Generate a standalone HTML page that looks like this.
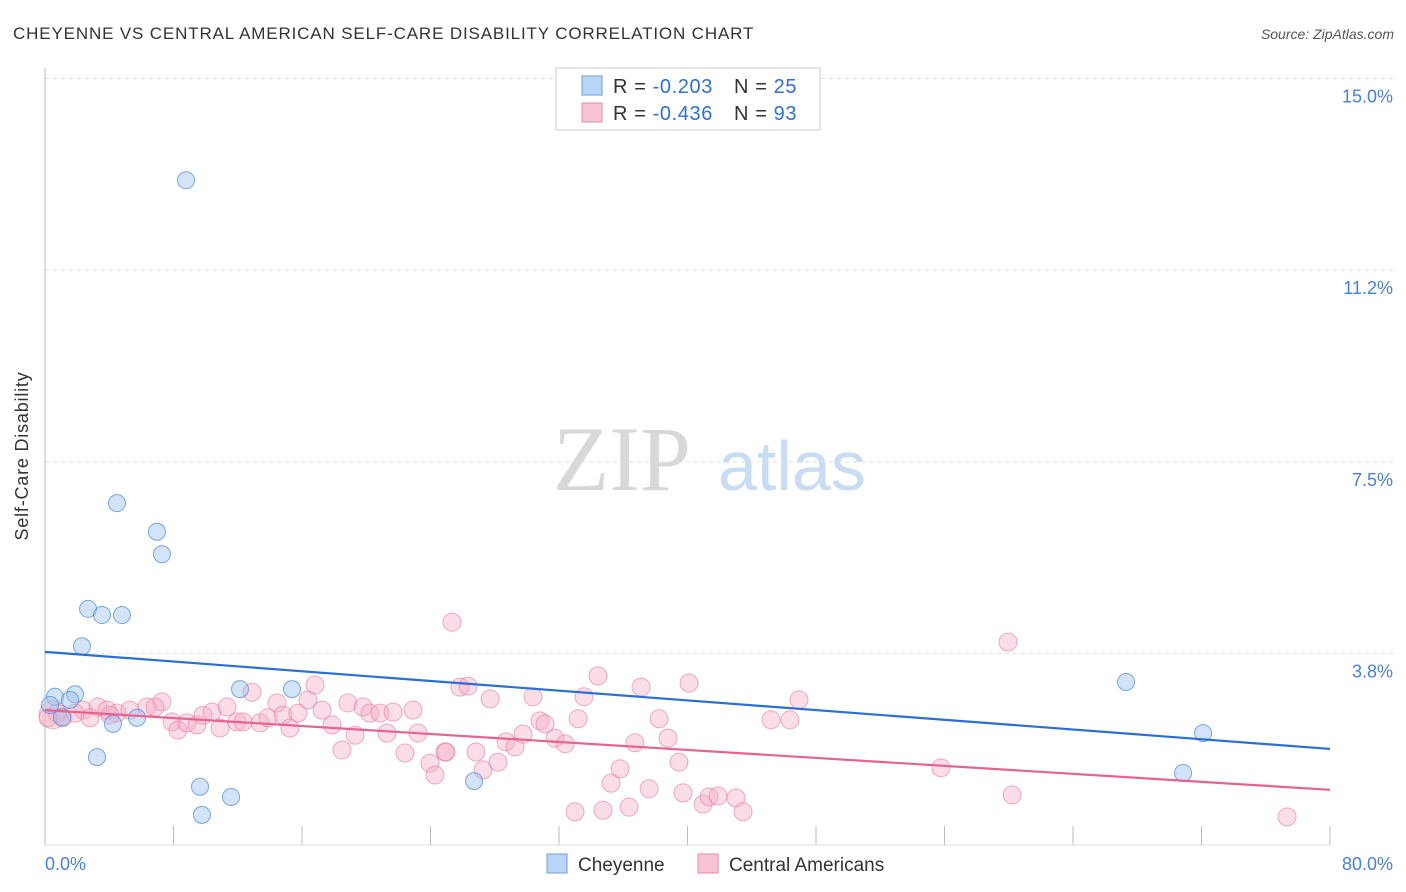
<!DOCTYPE html>
<html><head><meta charset="utf-8"><style>
body{margin:0;background:#fff;font-family:"Liberation Sans",sans-serif;}
svg{display:block}
</style></head><body>
<svg width="1406" height="892" xmlns="http://www.w3.org/2000/svg">
<text x="13" y="39" font-size="17" letter-spacing="0.85" fill="#333">CHEYENNE VS CENTRAL AMERICAN SELF-CARE DISABILITY CORRELATION CHART</text>
<text x="1394" y="39" font-size="14" fill="#555" font-style="italic" text-anchor="end">Source: ZipAtlas.com</text>
<g>
<text x="553" y="490" font-family="Liberation Serif,serif" font-size="92" fill="#d8d8d8">ZIP</text>
<text x="718" y="490" font-size="70" fill="#c8dcf4">atlas</text>
</g>
<g id="grid"></g>
<g id="ticks"></g>
<line x1="45" y1="68" x2="45" y2="845" stroke="#bbb"/>
<line x1="45" y1="845" x2="1330" y2="845" stroke="#ddd"/>
<text x="28" y="456" font-size="18" letter-spacing="0.8" fill="#333" text-anchor="middle" transform="rotate(-90 28 456)">Self-Care Disability</text>
<text x="45" y="870" font-size="18" fill="#4a7fd8">0.0%</text>
<text x="1393" y="870" font-size="18" fill="#4a7fd8" text-anchor="end">80.0%</text>
<g id="pink"></g>
<g id="blue"></g>
<g id="lines"></g>
<g>
<rect x="556" y="68" width="264" height="62" fill="#fff" stroke="#ccc"/>
<rect x="582" y="76" width="20" height="19" fill="#b8d4f6" stroke="#6d9fe0"/>
<rect x="582" y="103" width="20" height="19" fill="#f8c4d4" stroke="#e88aa8"/>
<text x="613" y="93" font-size="20" letter-spacing="0.6" fill="#333">R = <tspan fill="#2f6fd8">-0.203</tspan></text>
<text x="734" y="93" font-size="20" letter-spacing="0.6" fill="#333">N = <tspan fill="#2f6fd8">25</tspan></text>
<text x="613" y="120" font-size="20" letter-spacing="0.6" fill="#333">R = <tspan fill="#2f6fd8">-0.436</tspan></text>
<text x="734" y="120" font-size="20" letter-spacing="0.6" fill="#333">N = <tspan fill="#2f6fd8">93</tspan></text>
</g>
<g>
<rect x="547" y="854" width="20" height="19" fill="#b8d4f6" stroke="#6d9fe0"/>
<text x="578" y="871" font-size="19" fill="#333">Cheyenne</text>
<rect x="698" y="854" width="20" height="19" fill="#f8c4d4" stroke="#e88aa8"/>
<text x="729" y="871" font-size="19" fill="#333">Central Americans</text>
</g>
</svg>
<script>
const yTicks=[3.75,7.5,11.25,15];
const yTickLabels=["3.8%","7.5%","11.2%","15.0%"];
const xTicks=[8,16,24,32,40,48,56,64,72,80];
const blueX=[8.78,4.48,6.97,7.28,2.68,3.55,4.79,2.30,0.62,1.87,1.56,0.31,1.06,4.23,5.73,12.14,15.38,3.24,9.65,11.58,9.77,26.71,67.30,72.10,70.85];
const blueY=[13.01,6.69,6.13,5.69,4.62,4.50,4.50,3.89,2.90,2.95,2.84,2.74,2.50,2.37,2.49,3.05,3.05,1.72,1.14,0.94,0.59,1.25,3.19,2.19,1.41];
const pinkX=[0.75,1.12,2.37,3.30,2.80,3.86,4.48,5.29,6.35,7.28,6.85,7.91,8.28,8.84,9.46,9.84,10.40,11.33,10.90,11.95,12.33,12.89,13.39,13.88,14.44,14.82,15.25,15.75,16.37,16.81,17.25,17.87,18.49,18.86,19.30,19.80,20.23,20.86,21.67,21.29,22.41,22.91,23.22,23.97,24.28,24.90,25.34,25.84,26.34,27.71,30.38,34.43,37.11,40.10,46.94,33.56,24.97,26.83,27.27,28.20,28.70,29.26,29.76,30.82,31.13,31.75,32.38,33.19,35.80,35.24,36.73,38.23,38.79,39.47,37.61,39.72,40.97,41.34,41.90,43.02,43.46,45.20,46.38,33.00,34.74,36.36,59.96,55.78,60.21,77.33,0.19,1.87,4.05];
const pinkY=[2.58,2.49,2.64,2.70,2.49,2.64,2.58,2.64,2.70,2.80,2.70,2.41,2.25,2.39,2.35,2.54,2.60,2.70,2.29,2.41,2.41,2.99,2.39,2.49,2.78,2.54,2.29,2.58,2.84,3.13,2.64,2.35,1.86,2.78,2.15,2.70,2.58,2.58,2.60,2.19,1.80,2.64,2.19,1.60,1.37,1.82,4.36,3.09,3.11,2.86,2.90,3.31,3.09,3.17,2.84,2.90,1.82,1.82,1.47,1.62,2.02,1.92,2.17,2.43,2.37,2.09,1.98,2.47,1.49,1.21,2.00,2.47,2.09,1.62,1.10,1.02,0.80,0.94,0.96,0.92,0.65,2.45,2.45,0.65,0.68,0.74,3.97,1.51,0.98,0.55,2.49,2.58,2.54];
const blueTrend=[3.78,1.88];
const pinkTrend=[2.64,1.08];
const NS="http://www.w3.org/2000/svg";
const sx=v=>45+v/80*1285;
const sy=v=>845-v*51.1;
function mk(tag,attrs,parent){const e=document.createElementNS(NS,tag);for(const k in attrs)e.setAttribute(k,attrs[k]);parent.appendChild(e);return e;}
const grid=document.getElementById('grid');
yTicks.forEach((t,i)=>{
  const l=mk('line',{x1:45,x2:1393,y1:sy(t),y2:sy(t),stroke:'#ddd','stroke-dasharray':'4,4'},grid);
  
  
  const tx=mk('text',{x:1393,y:sy(t)+24,'font-size':18,fill:'#4a7fd8','text-anchor':'end'},grid);
  tx.textContent=yTickLabels[i];
  
  
});
const ticks=document.getElementById('ticks');
xTicks.forEach(t=>{
  const l=mk('line',{x1:sx(t),x2:sx(t),y1:826,y2:845,stroke:'#bbb'},ticks);
  
  
});
const pg=document.getElementById('pink');
const big=mk('circle',{cx:sx(0.5),cy:sy(2.55),r:14,fill:'rgba(244,170,195,0.35)',stroke:'rgba(228,120,155,0.5)'},pg);


pinkX.forEach((x,i)=>{
  const c=mk('circle',{cx:sx(x),cy:sy(pinkY[i]),r:9,fill:'rgba(244,170,195,0.4)',stroke:'rgba(228,120,155,0.6)','stroke-width':1},pg);
  
  
});
const bg=document.getElementById('blue');
blueX.forEach((x,i)=>{
  const c=mk('circle',{cx:sx(x),cy:sy(blueY[i]),r:8.5,fill:'rgba(160,195,240,0.45)',stroke:'rgba(90,145,220,0.8)','stroke-width':1},bg);
  
  
});
const lg=document.getElementById('lines');
const bl=mk('line',{x1:sx(0),y1:sy(blueTrend[0]),x2:sx(80),y2:sy(blueTrend[1]),stroke:'#2a6fd6','stroke-width':2.2},lg);


const pl=mk('line',{x1:sx(0),y1:sy(pinkTrend[0]),x2:sx(80),y2:sy(pinkTrend[1]),stroke:'#e8628f','stroke-width':2.2},lg);


</script>
</body></html>
